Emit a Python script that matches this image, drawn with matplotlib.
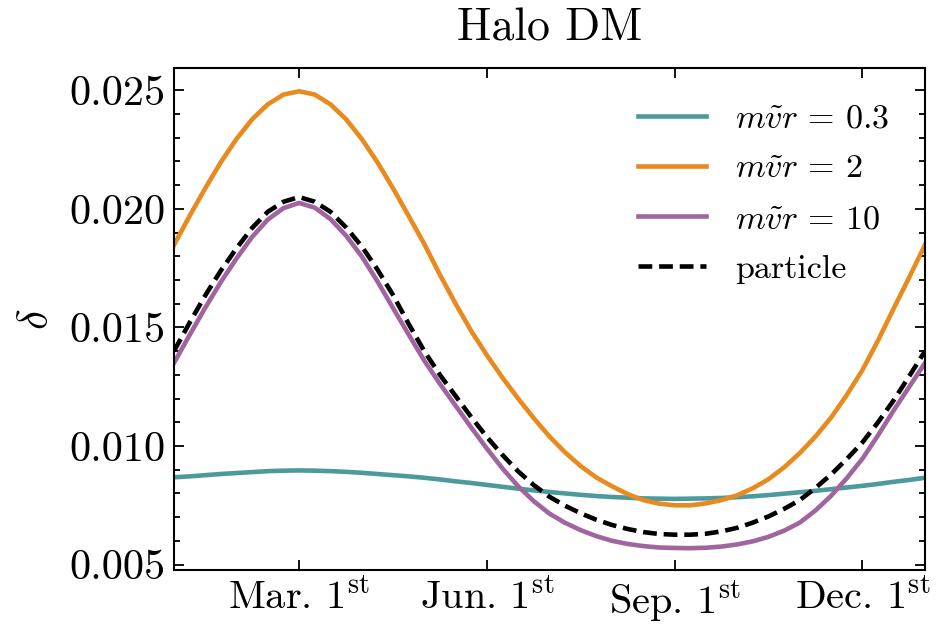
import matplotlib
matplotlib.use("Agg")
import matplotlib.pyplot as plt
from matplotlib.ticker import MultipleLocator, FormatStrFormatter

plt.rcParams['font.family'] = 'serif'
plt.rcParams['font.serif'] = ['cmr10', 'DejaVu Serif']
plt.rcParams['mathtext.fontset'] = 'cm'
plt.rcParams['axes.unicode_minus'] = False
plt.rcParams['axes.formatter.use_mathtext'] = True

# time in months since Jan 1st
months = [0.0, 0.25, 0.5, 0.75, 1.0, 1.25, 1.5, 1.75, 2.0, 2.25, 2.5, 2.75,
          3.0, 3.25, 3.5, 3.75, 4.0, 4.25, 4.5, 4.75, 5.0, 5.25, 5.5, 5.75,
          6.0, 6.25, 6.5, 6.75, 7.0, 7.25, 7.5, 7.75, 8.0, 8.25, 8.5, 8.75,
          9.0, 9.25, 9.5, 9.75, 10.0, 10.25, 10.5, 10.75, 11.0, 11.25, 11.5, 11.75, 12.0]

delta_03 = [0.00868, 0.00872, 0.00877, 0.00882, 0.00886, 0.00890, 0.00894, 0.00896, 0.00897,
            0.00896, 0.00894, 0.00891, 0.00887, 0.00882, 0.00877, 0.00872, 0.00866, 0.00859,
            0.00851, 0.00844, 0.00836, 0.00828, 0.00820, 0.00813, 0.00806, 0.00800, 0.00794,
            0.00789, 0.00785, 0.00782, 0.00779, 0.00778, 0.00777, 0.00778, 0.00779, 0.00781,
            0.00784, 0.00788, 0.00793, 0.00799, 0.00805, 0.00811, 0.00818, 0.00825, 0.00832,
            0.00840, 0.00849, 0.00857, 0.00866]

delta_2 = [0.01848, 0.01970, 0.02087, 0.02197, 0.02295, 0.02378, 0.02441, 0.02482, 0.02496,
           0.02482, 0.02441, 0.02378, 0.02295, 0.02197, 0.02087, 0.01970, 0.01852, 0.01722,
           0.01600, 0.01485, 0.01383, 0.01288, 0.01200, 0.01117, 0.01040, 0.00973, 0.00915,
           0.00867, 0.00830, 0.00797, 0.00772, 0.00757, 0.00750, 0.00750, 0.00758, 0.00772,
           0.00792, 0.00822, 0.00860, 0.00910, 0.00970, 0.01040, 0.01120, 0.01215, 0.01320,
           0.01445, 0.01580, 0.01712, 0.01848]

delta_10 = [0.01350, 0.01468, 0.01583, 0.01692, 0.01791, 0.01882, 0.01955, 0.02003, 0.02025,
            0.02005, 0.01957, 0.01887, 0.01800, 0.01695, 0.01582, 0.01470, 0.01360, 0.01262,
            0.01170, 0.01078, 0.00989, 0.00905, 0.00830, 0.00767, 0.00715, 0.00676, 0.00645,
            0.00620, 0.00600, 0.00587, 0.00578, 0.00572, 0.00570, 0.00569, 0.00571, 0.00576,
            0.00585, 0.00598, 0.00617, 0.00643, 0.00677, 0.00728, 0.00790, 0.00864, 0.00946,
            0.01045, 0.01150, 0.01250, 0.01350]

delta_particle = [0.01400, 0.01520, 0.01635, 0.01740, 0.01834, 0.01920, 0.01988, 0.02030, 0.02050,
                  0.02030, 0.01988, 0.01922, 0.01842, 0.01745, 0.01637, 0.01515, 0.01400, 0.01300,
                  0.01211, 0.01122, 0.01038, 0.00962, 0.00893, 0.00835, 0.00786, 0.00748, 0.00716,
                  0.00689, 0.00667, 0.00650, 0.00637, 0.00629, 0.00626, 0.00626, 0.00630, 0.00640,
                  0.00655, 0.00677, 0.00703, 0.00735, 0.00772, 0.00823, 0.00880, 0.00945, 0.01015,
                  0.01100, 0.01193, 0.01295, 0.01400]

tick_pos = [2, 5, 8, 11]
tick_labels = [r'Mar. 1$^{\rm st}$', r'Jun. 1$^{\rm st}$', r'Sep. 1$^{\rm st}$', r'Dec. 1$^{\rm st}$']
labels = [r'$m\tilde{v}r\,=\,0.3$', r'$m\tilde{v}r\,=\,2$', r'$m\tilde{v}r\,=\,10$', 'particle']

fig = plt.figure(figsize=(9.48, 6.24), dpi=100)
ax = fig.add_axes([0.1835, 0.0865, 0.7922, 0.8045])

lw = 3.3
ax.plot(months, delta_03, color='#4C9A9E', lw=lw, label=labels[0])
ax.plot(months, delta_2, color='#E88A1E', lw=lw, label=labels[1])
ax.plot(months, delta_10, color='#A0649F', lw=lw, label=labels[2])
ax.plot(months, delta_particle, color='black', lw=lw, ls=(0, (3.0, 1.5)), label=labels[3])

ax.set_xlim(0, 12)
ax.set_ylim(0.00477, 0.02594)
ax.set_xticks(tick_pos)
ax.set_xticklabels(tick_labels)
ax.yaxis.set_major_locator(MultipleLocator(0.005))
ax.yaxis.set_minor_locator(MultipleLocator(0.001))
ax.yaxis.set_major_formatter(FormatStrFormatter('%.3f'))

ax.tick_params(axis='both', which='both', direction='in', top=True, right=True, width=1.3)
ax.tick_params(axis='both', which='major', length=7, pad=6)
ax.tick_params(axis='x', which='major', labelsize=29)
ax.tick_params(axis='y', which='major', labelsize=30.5)
ax.tick_params(axis='y', which='minor', length=4)
for s in ax.spines.values():
    s.set_linewidth(1.5)

ax.set_ylabel(r'$\delta$', fontsize=31, labelpad=10)
ax.set_title('Halo DM', fontsize=33, pad=20)

ax.legend(loc='upper right', frameon=False, fontsize=24.5, handlelength=2.0,
          labelspacing=0.6, borderaxespad=0.65, handletextpad=0.85)

fig.savefig('out.png', dpi=100)
